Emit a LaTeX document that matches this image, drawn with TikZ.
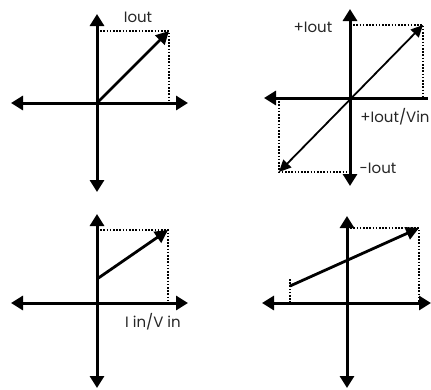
\documentclass[tikz,border=0pt]{standalone}
\usepackage{fontspec}
\setmainfont{Poppins}
\usetikzlibrary{arrows.meta}
\tikzset{
  axis/.style={line width=3pt,{Triangle[length=12pt,width=14pt]}-{Triangle[length=12pt,width=14pt]}},
  axisleft/.style={line width=3pt,{Triangle[length=12pt,width=14pt]}-},
  vec/.style={line width=2.8pt,-{Triangle[length=13pt,width=13pt]}},
  thinvec/.style={line width=1.8pt,{Triangle[length=12pt,width=11pt]}-{Triangle[length=12pt,width=11pt]}},
  guide/.style={line width=1.5pt,dash pattern=on 1.6pt off 1.6pt},
  lbl/.style={font=\fontsize{15}{15}\selectfont,inner sep=0pt,text=black!85}
}
\begin{document}
\begin{tikzpicture}[x=1pt,y=-1pt]
\useasboundingbox (0,0) rectangle (431,389);
% Panel 1
\coordinate (a1t) at (97,14);
\coordinate (a1b) at (97,192);
\coordinate (a1l) at (11,103);
\coordinate (a1r) at (188,103);
\coordinate (o1) at (97,103);
\coordinate (p1) at (169,31);
\coordinate (q1) at (97,31);
\coordinate (r1) at (169,103);
\draw[guide] (q1) -- (p1) -- (r1);
\draw[axis] (a1t) -- (a1b);
\draw[axis] (a1l) -- (a1r);
\draw[vec] (o1) -- (p1);
\node[lbl] (l1) at (138,17) {Iout};
% Panel 2
\coordinate (a2t) at (350,9);
\coordinate (a2b) at (350,186);
\coordinate (a2l) at (264,98);
\coordinate (a2r) at (428,98);
\coordinate (p2) at (423,25);
\coordinate (q2) at (350,25);
\coordinate (r2) at (423,98);
\coordinate (m2) at (279,172);
\coordinate (n2) at (279,98);
\coordinate (s2) at (350,172);
\draw[guide] (q2) -- (p2) -- (r2);
\draw[guide] (n2) -- (m2) -- (s2);
\draw[axis] (a2t) -- (a2b);
\draw[axisleft] (a2l) -- (a2r);
\draw[thinvec] (m2) -- (p2);
\node[lbl] (l2a) at (313,27) {+Iout};
\node[lbl] (l2b) at (395,117) {+Iout/Vin};
\node[lbl] (l2c) at (378,168) {-Iout};
% Panel 3
\coordinate (a3t) at (97,214);
\coordinate (a3b) at (97,388);
\coordinate (a3l) at (11,303);
\coordinate (a3r) at (188,303);
\coordinate (o3) at (97,279);
\coordinate (p3) at (168,230);
\coordinate (q3) at (97,230);
\coordinate (r3) at (168,303);
\draw[guide] (q3) -- (p3) -- (r3);
\draw[axis] (a3t) -- (a3b);
\draw[axis] (a3l) -- (a3r);
\draw[vec] (o3) -- (p3);
\node[lbl] (l3) at (153,322) {I in/V in};
% Panel 4
\coordinate (a4t) at (347,216);
\coordinate (a4b) at (347,388);
\coordinate (a4l) at (262,303);
\coordinate (a4r) at (431,303);
\coordinate (o4) at (290,286);
\coordinate (p4) at (419,228);
\coordinate (q4) at (347,228);
\coordinate (r4) at (419,303);
\coordinate (s4) at (290,303);
\coordinate (t4) at (290,278);
\draw[guide] (q4) -- (p4) -- (r4);
\draw[guide] (s4) -- (t4);
\draw[axis] (a4t) -- (a4b);
\draw[axis] (a4l) -- (a4r);
\draw[vec] (o4) -- (p4);
\end{tikzpicture}
\end{document}
